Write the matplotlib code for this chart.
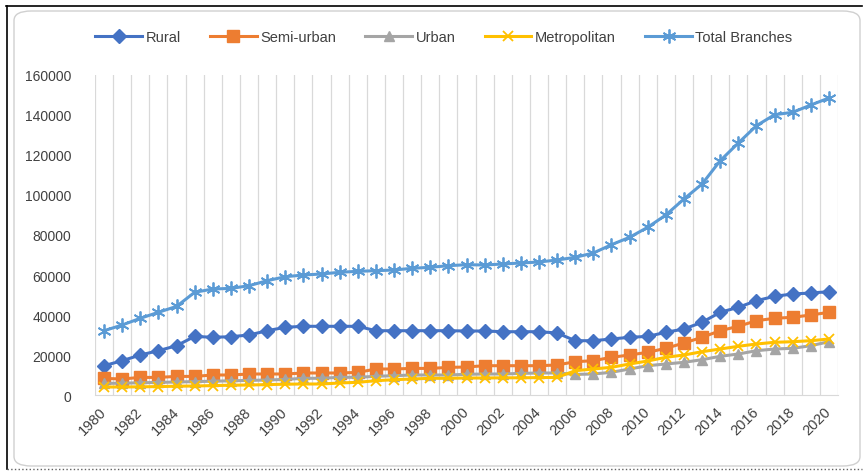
import numpy as np
import matplotlib
matplotlib.use('Agg')
import matplotlib.pyplot as plt
from matplotlib.patches import FancyBboxPatch
from matplotlib.lines import Line2D

plt.rcParams['font.family'] = ['Liberation Sans', 'DejaVu Sans']

years = list(range(1980, 2021))

rural = [14650, 17150, 20000, 22150, 24650, 29300, 28850, 29150, 30000, 32150,
         33850, 34350, 34350, 34350, 34350, 32150, 32150, 32150, 32150, 32150,
         32000, 32000, 31650, 31650, 31650, 31000, 27150, 27150, 28000, 28850,
         29300, 31350, 33000, 36350, 41350, 43850, 47150, 49350, 50500, 51000,
         51650]
semi_urban = [8300, 8000, 8800, 8800, 9300, 9300, 10000, 10000, 10500, 10500,
              10500, 11000, 11000, 11000, 11300, 13000, 13000, 13300, 13300, 13800,
              14000, 14650, 14650, 14650, 14650, 15000, 16650, 17150, 18850, 20000,
              21350, 23350, 26000, 28850, 32150, 34350, 37150, 38350, 38850, 40000,
              41350]
urban = [5800, 5900, 6100, 6300, 6500, 6700, 6900, 7100, 7300, 7500,
         7800, 8350, 8350, 8850, 8850, 9350, 9650, 10000, 10000, 10000,
         10350, 10500, 10500, 10800, 11000, 11000, 10300, 10500, 11350, 13000,
         14650, 15500, 16350, 17650, 19350, 20500, 22150, 23000, 23350, 24650,
         26650]
metro = [4000, 4000, 4100, 4200, 4400, 4500, 4700, 4900, 5000, 5200,
         5400, 5500, 5500, 6000, 6350, 7150, 7650, 8000, 8350, 8350,
         8500, 8500, 8600, 8600, 8700, 8800, 12150, 13000, 13850, 15500,
         17000, 18850, 20000, 21650, 23000, 24350, 25500, 26350, 26650, 27150,
         28000]
total = [32150, 35000, 38350, 41350, 44300, 51350, 53000, 53300, 54650, 57150,
         59150, 60000, 60500, 61350, 61850, 62150, 62500, 63350, 63850, 64650,
         65150, 65000, 65500, 66000, 66500, 67500, 68850, 71000, 75150, 78850,
         83850, 90000, 98000, 105500, 117150, 126000, 134650, 140150, 141350, 145000,
         148500]

series = [
    ('Rural', rural, '#4472C4', 'D', 7.5),
    ('Semi-urban', semi_urban, '#ED7D31', 's', 8.5),
    ('Urban', urban, '#A5A5A5', '^', 7),
    ('Metropolitan', metro, '#FFC000', 'x', 7.5),
    ('Total Branches', total, '#5B9BD5', (6, 2, 0), 10),
]

fig = plt.figure(figsize=(8.64, 4.77), dpi=100)
ax = fig.add_axes([95 / 864, 1 - 396 / 477, 743 / 864, 320 / 477])

x = np.arange(len(years))
handles = []
for name, vals, col, mk, ms in series:
    ln, = ax.plot(x, vals, color=col, lw=2.2, marker=mk, markersize=ms,
                  markerfacecolor=col, markeredgecolor=col,
                  markeredgewidth=1.3 if mk in ('x', (6, 2, 0)) else 1,
                  label=name, zorder=3)
    handles.append(ln)

ax.set_xlim(-0.5, len(years) - 0.5)
ax.set_ylim(0, 160000)
ax.set_yticks(np.arange(0, 160001, 20000))
ax.set_xticks(x[::2])
ax.set_xticklabels([str(y) for y in years[::2]], rotation=45, ha='right',
                   va='center', rotation_mode='anchor', fontsize=10.5, color='#404040')
ax.tick_params(axis='x', length=0, pad=10)
ax.tick_params(axis='y', length=0, pad=17, labelsize=10, labelcolor='#404040')

# vertical gridlines at category boundaries
for b in np.arange(-0.5, len(years), 1.0):
    ax.axvline(b, color='#D9D9D9', lw=0.9, zorder=1)

for s in ['top', 'right', 'left']:
    ax.spines[s].set_visible(False)
ax.spines['bottom'].set_color('#D9D9D9')

fig.legend(handles=handles, loc='center', bbox_to_anchor=(444 / 864, 1 - 38 / 477),
           ncol=5, frameon=False, fontsize=10.5, handlelength=3.2,
           columnspacing=2.0, handletextpad=0.25, labelcolor='#404040')

# outer chart border
fig.add_artist(FancyBboxPatch((14 / 864, 10 / 477), 846 / 864, 455 / 477,
                              boxstyle='round,pad=0,rounding_size=0.02',
                              transform=fig.transFigure, fill=False,
                              edgecolor='#D0D0D0', lw=1))
fig.add_artist(Line2D([6 / 864, 862 / 864], [1 - 7 / 477, 1 - 7 / 477],
                      transform=fig.transFigure, color='black', lw=1.2))
fig.add_artist(Line2D([7 / 864, 7 / 864], [1 - 7 / 477, 1 - 470 / 477],
                      transform=fig.transFigure, color='black', lw=1.2))
fig.add_artist(Line2D([7 / 864, 862 / 864], [1 - 470 / 477, 1 - 470 / 477],
                      transform=fig.transFigure, color='#606060', lw=1, ls=':'))

fig.savefig('out.png', dpi=100)
